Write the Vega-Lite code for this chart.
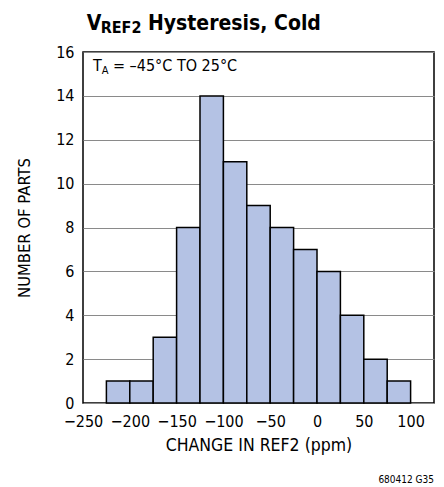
{
  "$schema": "https://vega.github.io/schema/vega-lite/v6.json",
  "width": 351,
  "height": 351,
  "autosize": "none",
  "padding": {"left": 83, "top": 52, "right": 10, "bottom": 84},
  "background": "white",
  "config": {
    "font": "DejaVu Sans Condensed, sans-serif",
    "view": {"stroke": "black", "strokeWidth": 1.5},
    "axis": {"labelFont": "DejaVu Sans Condensed, sans-serif", "titleFont": "DejaVu Sans Condensed, sans-serif", "labelColor": "black", "titleColor": "black", "titleFontWeight": "normal", "domain": false, "ticks": false}
  },
  "title": {"text": "680412 G35", "orient": "bottom", "anchor": "end", "fontSize": 10, "fontWeight": "normal", "font": "DejaVu Sans Condensed, sans-serif", "offset": 21, "color": "black"},
  "datasets": {
    "bins": [
      {"lo": -225, "hi": -200, "count": 1},
      {"lo": -200, "hi": -175, "count": 1},
      {"lo": -175, "hi": -150, "count": 3},
      {"lo": -150, "hi": -125, "count": 8},
      {"lo": -125, "hi": -100, "count": 14},
      {"lo": -100, "hi": -75, "count": 11},
      {"lo": -75, "hi": -50, "count": 9},
      {"lo": -50, "hi": -25, "count": 8},
      {"lo": -25, "hi": 0, "count": 7},
      {"lo": 0, "hi": 25, "count": 6},
      {"lo": 25, "hi": 50, "count": 4},
      {"lo": 50, "hi": 75, "count": 2},
      {"lo": 75, "hi": 100, "count": 1}
    ],
    "titleBig": [
      {"lo": -246.0, "count": 17.0, "label": "V"},
      {"lo": -180.6, "count": 17.0, "label": "Hysteresis, Cold"}
    ],
    "titleSub": [
      {"lo": -231.1, "count": 16.86, "label": "REF2"}
    ],
    "noteBig": [
      {"lo": -239.3, "count": 15.15, "label": "T"},
      {"lo": -218.0, "count": 15.15, "label": "= –45°C TO 25°C"}
    ],
    "noteSub": [
      {"lo": -230.0, "count": 15.0, "label": "A"}
    ]
  },
  "layer": [
    {
      "data": {"name": "bins"},
      "mark": {"type": "bar", "fill": "#b4c2e4", "stroke": "black", "strokeWidth": 1.5},
      "encoding": {
        "x": {"field": "lo", "type": "quantitative", "scale": {"domain": [-250, 125], "nice": false, "zero": false},
              "axis": {"title": "CHANGE IN REF2 (ppm)", "values": [-250, -200, -150, -100, -50, 0, 50, 100], "grid": false, "labelFontSize": 16, "titleFontSize": 17.5, "labelPadding": 10, "titlePadding": 7, "labelFlush": false}},
        "x2": {"field": "hi"},
        "y": {"field": "count", "type": "quantitative", "scale": {"domain": [0, 16], "nice": false},
              "axis": {"title": "NUMBER OF PARTS", "values": [0, 2, 4, 6, 8, 10, 12, 14, 16], "grid": true, "gridColor": "#8a8a8a", "gridWidth": 1, "labelFontSize": 16, "titleFontSize": 16.5, "labelPadding": 9, "titlePadding": 23, "labelFlush": false}},
        "y2": {"datum": 0}
      }
    },
    {
      "data": {"name": "titleBig"},
      "mark": {"type": "text", "align": "left", "baseline": "alphabetic", "fontSize": 21, "fontWeight": "bold", "clip": false, "color": "black"},
      "encoding": {"x": {"field": "lo", "type": "quantitative"}, "y": {"field": "count", "type": "quantitative"}, "text": {"field": "label"}}
    },
    {
      "data": {"name": "titleSub"},
      "mark": {"type": "text", "align": "left", "baseline": "alphabetic", "fontSize": 16, "fontWeight": "bold", "clip": false, "color": "black"},
      "encoding": {"x": {"field": "lo", "type": "quantitative"}, "y": {"field": "count", "type": "quantitative"}, "text": {"field": "label"}}
    },
    {
      "data": {"name": "noteBig"},
      "mark": {"type": "text", "align": "left", "baseline": "alphabetic", "fontSize": 16, "clip": false, "color": "black"},
      "encoding": {"x": {"field": "lo", "type": "quantitative"}, "y": {"field": "count", "type": "quantitative"}, "text": {"field": "label"}}
    },
    {
      "data": {"name": "noteSub"},
      "mark": {"type": "text", "align": "left", "baseline": "alphabetic", "fontSize": 11, "clip": false, "color": "black"},
      "encoding": {"x": {"field": "lo", "type": "quantitative"}, "y": {"field": "count", "type": "quantitative"}, "text": {"field": "label"}}
    }
  ]
}
